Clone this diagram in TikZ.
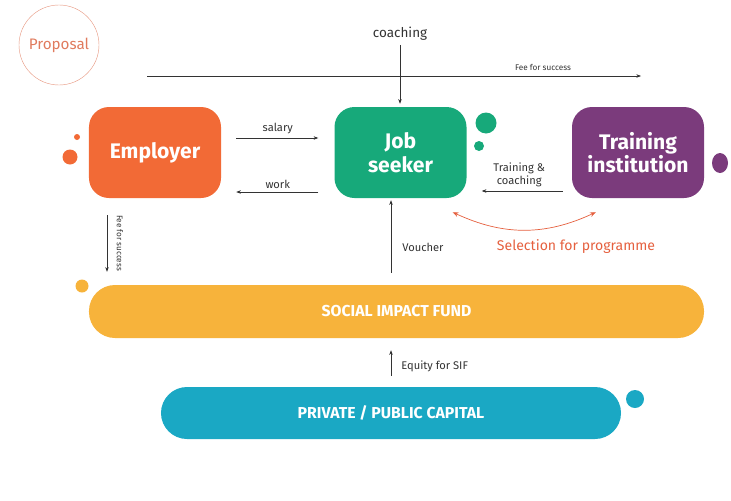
\documentclass[tikz,border=0pt]{standalone}
\usepackage{fontspec}
\setmainfont{Fira Sans}
\usetikzlibrary{positioning,arrows.meta}

\definecolor{employer}{HTML}{F26A36}
\definecolor{seeker}{HTML}{17A97A}
\definecolor{training}{HTML}{7B3B7C}
\definecolor{fund}{HTML}{F7B33B}
\definecolor{capital}{HTML}{1AA8C4}
\definecolor{proposal}{HTML}{E07B5E}
\definecolor{select}{HTML}{E5603F}
\definecolor{ink}{HTML}{333333}

\begin{document}
\begin{tikzpicture}[
  x=0.03cm,y=-0.03cm,
  box/.style={rounded corners=0.6cm,minimum width=3.96cm,minimum height=2.73cm,
    text=white,align=center,font=\fontsize{18}{20}\selectfont\bfseries},
  bar/.style={rounded corners=0.78cm,text=white,font=\fontsize{13.5}{15}\selectfont\bfseries},
  flow/.style={draw=ink,-{Stealth[length=4pt,width=3pt]},line width=0.5pt},
  lab/.style={text=ink,font=\fontsize{9.5}{11}\selectfont,inner sep=1pt},
  tiny/.style={text=ink,font=\fontsize{7}{8}\selectfont,inner sep=1pt}
  ]
  \useasboundingbox (0,0) rectangle (731,500);

  % proposal badge
  \node[draw=proposal!80,line width=0.35pt,circle,minimum size=2.4cm,text=proposal,
    font=\fontsize{13}{15}\selectfont] (prop) at (59,45) {Proposal};

  % the three actors
  \node[box,fill=employer] (emp) at (155,152.5) {Employer};
  \node[box,fill=seeker] (seek) at (400.5,152.5) {Job\\seeker};
  \node[box,fill=training] (train) at (638,152.5) {Training\\institution};

  % funds
  \node[bar,fill=fund,minimum width=18.45cm,minimum height=1.59cm] (sif) at (396.5,311.5) {SOCIAL IMPACT FUND};
  \node[bar,fill=capital,minimum width=13.8cm,minimum height=1.56cm] (cap) at (391,413) {PRIVATE / PUBLIC CAPITAL};

  % dots round the boxes
  \foreach \x/\y/\r/\c in {77/137/3/employer,70/157/7.5/employer,486/123/10.5/seeker,
    479/146/5/seeker,82/286/6.5/fund,635/399/9/capital}
    \fill[\c] (\x,\y) circle[radius=\r*0.03cm];
  \fill[training] (720,163) ellipse[x radius=0.24cm,y radius=0.3cm];

  % top: coaching and fee for success
  \node[text=ink,font=\fontsize{11.5}{13}\selectfont] (coach) at (400,34) {coaching};
  \draw[flow,shorten >=0.09cm] (coach.south) -- (coach.south |- seek.north);
  \coordinate (feeL) at (147,76);
  \coordinate (feeR) at (641,76);
  \draw[flow] (feeL) -- (feeR);
  \node[tiny] (feetop) at (543,67) {Fee for success};

  % employer <-> job seeker
  \draw[flow,shorten <=0.45cm,shorten >=0.48cm] ([yshift=0.435cm]emp.east) -- ([yshift=0.435cm]seek.west)
    node[lab,midway,above=2pt] (sal) {salary};
  \draw[flow,shorten <=0.48cm,shorten >=0.45cm] ([yshift=-1.185cm]seek.west) -- ([yshift=-1.185cm]emp.east)
    node[lab,midway,above=2pt] (wrk) {work};

  % training institution -> job seeker
  \draw[flow,shorten <=0.27cm,shorten >=0.45cm] ([yshift=-1.155cm]train.west) -- ([yshift=-1.155cm]seek.east)
    node[lab,midway,above=2pt,align=center] (tc) {Training \&\\coaching};

  % selection for programme
  \draw[select,line width=0.6pt,{Stealth[length=5pt,width=4pt]}-{Stealth[length=5pt,width=4pt]}]
    ([shift={(-0.42cm,-0.42cm)}]seek.south east) to[bend right=25] ([shift={(0.72cm,-0.42cm)}]train.south west);
  \node[text=select,font=\fontsize{12}{14}\selectfont] (sellab) at (576,247) {Selection for programme};

  % voucher from the fund
  \coordinate (vch) at ([xshift=-0.165cm,yshift=0.36cm]sif.north);
  \draw[flow,shorten >=0.06cm] (vch) -- (vch |- seek.south);
  \node[lab,anchor=west] (vlab) at (401,247) {Voucher};

  % employer fee for success
  \coordinate (fee2) at (107,215);
  \draw[flow,shorten >=0.39cm] (fee2) -- (fee2 |- sif.north);
  \node[tiny,rotate=-90] (feeside) at (120,243) {Fee for success};

  % equity
  \draw[flow,shorten <=0.33cm,shorten >=0.36cm] (cap.north) -- (cap.north |- sif.south);
  \node[lab,anchor=west] (eq) at (400,366) {Equity for SIF};
\end{tikzpicture}
\end{document}
